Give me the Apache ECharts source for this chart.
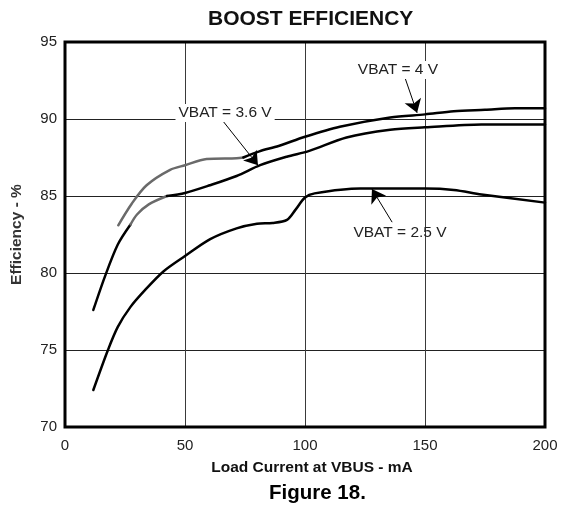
<!DOCTYPE html>
<html>
<head>
<meta charset="utf-8">
<script src="https://cdn.jsdelivr.net/npm/echarts@6/dist/echarts.min.js"></script>
<style>
html,body{margin:0;padding:0;background:#fff;}
#chart{width:570px;height:509px;}
</style>
</head>
<body>
<div id="chart"></div>
<script>
// ---- data ----
const xTicks = [0, 50, 100, 150, 200];
const yTicks = [70, 75, 80, 85, 90, 95];

const vbat4Current = [22.2, 27.8, 34, 43.8, 50, 59, 71.5, 74.3, 81, 89, 100, 114.5, 135.5, 150, 162, 175, 187.5, 200];
const vbat4Eff     = [83.1, 84.5, 85.7, 86.7, 87.0, 87.4, 87.45, 87.5, 87.9, 88.25, 88.85, 89.5, 90.1, 90.3, 90.5, 90.6, 90.7, 90.7];

const vbat36Current = [11.8, 16.7, 22, 27.3, 30, 34.9, 42.5, 50, 60.4, 71.5, 81.3, 92.4, 101.8, 117.3, 135.5, 150, 173.5, 200];
const vbat36Eff     = [77.6, 79.8, 81.85, 83.15, 83.8, 84.46, 85.0, 85.2, 85.7, 86.3, 87.0, 87.55, 87.93, 88.8, 89.3, 89.46, 89.65, 89.65];

const vbat25Current = [11.8, 17.9, 22, 27.3, 33.4, 41, 50, 60.5, 71.5, 80, 86.5, 92.5, 96, 100, 104, 123, 150, 162, 173.5, 200];
const vbat25Eff     = [72.4, 75.0, 76.5, 77.8, 78.9, 80.1, 81.1, 82.2, 82.9, 83.2, 83.25, 83.45, 84.1, 84.9, 85.17, 85.48, 85.48, 85.39, 85.1, 84.57];

const seriesNames = ['VBAT = 4 V', 'VBAT = 3.6 V', 'VBAT = 2.5 V'];

function zip(xs, ys) { return xs.map((x, i) => [x, ys[i]]); }
// keep points whose x lies in [lo, hi]
function part(xs, ys, lo, hi) { return zip(xs, ys).filter(p => p[0] >= lo && p[0] <= hi); }

const FONT = '"Liberation Sans", Arial, sans-serif';
const GRAY = '#6a6a6a';
const chart = echarts.init(document.getElementById('chart'), null, {renderer: 'canvas'});

function line(name, data, color) {
  return {
    type: 'line', name: name, data: data,
    smooth: 0.3, showSymbol: false, symbol: 'none',
    lineStyle: {width: 2.5, color: color, cap: 'round', join: 'round'},
    itemStyle: {color: color},
    z: 3
  };
}

const series = [
  line(seriesNames[0], part(vbat4Current, vbat4Eff, 0, 74.3), GRAY),
  line(seriesNames[0], part(vbat4Current, vbat4Eff, 74.3, 999), '#000'),
  line(seriesNames[1], part(vbat36Current, vbat36Eff, 0, 27.3), '#000'),
  line(seriesNames[1], part(vbat36Current, vbat36Eff, 27.3, 42.5), GRAY),
  line(seriesNames[1], part(vbat36Current, vbat36Eff, 42.5, 999), '#000'),
  line(seriesNames[2], zip(vbat25Current, vbat25Eff), '#000')
];

series[5].markLine = {
  silent: true, animation: false,
  symbol: ['none', 'arrow'], symbolSize: 13,
  label: {show: false},
  lineStyle: {color: '#000', width: 1, type: 'solid'},
  itemStyle: {color: '#000'},
  data: [
    [{coord: [65.8, 89.87]}, {coord: [80.4, 87.0]}],
    [{coord: [141.7, 92.66]}, {coord: [146.7, 90.4]}],
    [{coord: [136.3, 83.3]}, {coord: [127.9, 85.45]}]
  ]
};
series[5].markPoint = {
  silent: true, animation: false,
  symbol: 'rect', symbolSize: 1,
  itemStyle: {color: 'rgba(0,0,0,0)'},
  label: {show: true, position: 'inside', fontFamily: FONT, fontSize: 15.5, color: '#222'},
  data: [
    {coord: [66.7, 90.39], label: {formatter: seriesNames[1], backgroundColor: '#fff', padding: [1, 3]}},
    {coord: [138.75, 93.18], label: {formatter: seriesNames[0], backgroundColor: '#fff', padding: [1, 3]}},
    {coord: [139.6, 82.6], label: {formatter: seriesNames[2]}}
  ]
};

const option = {
  animation: false,
  backgroundColor: '#fff',
  grid: {left: 65, right: 25, top: 42, bottom: 82, show: true, borderColor: '#000', borderWidth: 3, z: 5},
  graphic: [
    {type: 'text', left: 208, top: 9, style: {text: 'BOOST EFFICIENCY', font: 'bold 21px ' + FONT, fill: '#111'}},
    {type: 'text', left: 269, top: 483, style: {text: 'Figure 18.', font: 'bold 20.5px ' + FONT, fill: '#000'}}
  ],
  xAxis: {
    type: 'value', min: xTicks[0], max: xTicks[xTicks.length - 1], interval: 50,
    name: 'Load Current at VBUS - mA', nameLocation: 'middle', nameGap: 33,
    nameTextStyle: {fontFamily: FONT, fontWeight: 'bold', fontSize: 15.5, color: '#111', padding: [0, 0, 0, 14]},
    axisLine: {show: false}, axisTick: {show: false},
    axisLabel: {fontFamily: FONT, fontSize: 15, color: '#222', margin: 11},
    splitLine: {show: true, lineStyle: {color: '#3a3a3a', width: 1}}
  },
  yAxis: {
    type: 'value', min: yTicks[0], max: yTicks[yTicks.length - 1], interval: 5,
    name: 'Efficiency - %', nameLocation: 'middle', nameGap: 40,
    nameTextStyle: {fontFamily: FONT, fontWeight: 'bold', fontSize: 15.5, color: '#333'},
    axisLine: {show: false}, axisTick: {show: false},
    axisLabel: {fontFamily: FONT, fontSize: 15, color: '#222', margin: 8},
    splitLine: {show: true, lineStyle: {color: '#222', width: 1}}
  },
  series: series
};
chart.setOption(option);
</script>
</body>
</html>
